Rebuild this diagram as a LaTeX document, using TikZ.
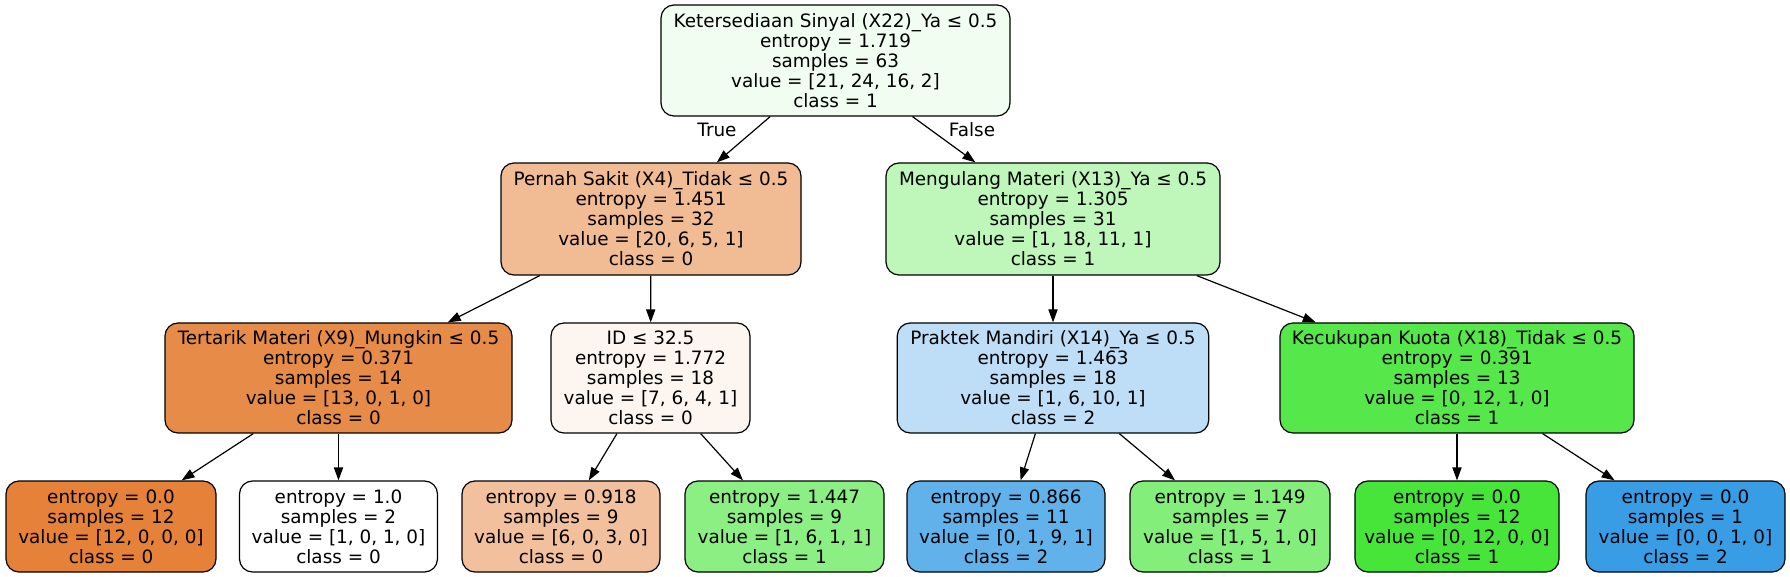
\documentclass[tikz,border=0pt]{standalone}
\usepackage{fontspec}
\setmainfont{DejaVu Sans}
\usetikzlibrary{arrows.meta}
\definecolor{cRoot}{RGB}{242,253,241}
\definecolor{cPern}{RGB}{241,187,148}
\definecolor{cMeng}{RGB}{191,246,186}
\definecolor{cTert}{RGB}{231,139,72}
\definecolor{cID}{RGB}{253,245,239}
\definecolor{cPrak}{RGB}{189,222,246}
\definecolor{cKec}{RGB}{86,231,74}
\definecolor{cLa}{RGB}{229,129,57}
\definecolor{cLb}{RGB}{255,255,255}
\definecolor{cLc}{RGB}{242,192,156}
\definecolor{cLd}{RGB}{140,239,131}
\definecolor{cLe}{RGB}{97,177,234}
\definecolor{cLf}{RGB}{132,238,123}
\definecolor{cLg}{RGB}{71,229,57}
\definecolor{cLh}{RGB}{57,157,229}
\tikzset{
  tnode/.style={draw=black, line width=0.6pt, rounded corners=6.5pt, align=center,
    inner sep=0pt, font=\fontsize{9.2}{10}\selectfont},
  edge/.style={draw=black, line width=0.6pt, -{Triangle[length=6.5pt,width=4.6pt]}},
  elab/.style={font=\fontsize{9.2}{10}\selectfont, inner sep=0pt}
}
\begin{document}
\begin{tikzpicture}[x=0.5pt,y=-0.5pt]
\useasboundingbox (0,0) rectangle (1790,577);
\node[tnode, fill=cRoot, minimum width=174.5pt, minimum height=55.5pt] (root) at (835.5,60.5)
  {Ketersediaan Sinyal (X22)\_Ya ≤ 0.5\\entropy = 1.719\\samples = 63\\value = [21, 24, 16, 2]\\class = 1};
\node[tnode, fill=cPern, minimum width=150pt, minimum height=56pt] (pern) at (651,219)
  {Pernah Sakit (X4)\_Tidak ≤ 0.5\\entropy = 1.451\\samples = 32\\value = [20, 6, 5, 1]\\class = 0};
\node[tnode, fill=cMeng, minimum width=167pt, minimum height=56pt] (meng) at (1053,219)
  {Mengulang Materi (X13)\_Ya ≤ 0.5\\entropy = 1.305\\samples = 31\\value = [1, 18, 11, 1]\\class = 1};
\node[tnode, fill=cTert, minimum width=173.5pt, minimum height=55pt] (tert) at (338.5,378)
  {Tertarik Materi (X9)\_Mungkin ≤ 0.5\\entropy = 0.371\\samples = 14\\value = [13, 0, 1, 0]\\class = 0};
\node[tnode, fill=cID, minimum width=99.5pt, minimum height=55pt] (idn) at (650.5,378)
  {ID ≤ 32.5\\entropy = 1.772\\samples = 18\\value = [7, 6, 4, 1]\\class = 0};
\node[tnode, fill=cPrak, minimum width=155.75pt, minimum height=55pt] (prak) at (1053,378)
  {Praktek Mandiri (X14)\_Ya ≤ 0.5\\entropy = 1.463\\samples = 18\\value = [1, 6, 10, 1]\\class = 2};
\node[tnode, fill=cKec, minimum width=177pt, minimum height=55pt] (kec) at (1457,378)
  {Kecukupan Kuota (X18)\_Tidak ≤ 0.5\\entropy = 0.391\\samples = 13\\value = [0, 12, 1, 0]\\class = 1};
\node[tnode, fill=cLa, minimum width=105pt, minimum height=45.5pt] (la) at (111,526.5)
  {entropy = 0.0\\samples = 12\\value = [12, 0, 0, 0]\\class = 0};
\node[tnode, fill=cLb, minimum width=99pt, minimum height=45.5pt] (lb) at (338.5,526.5)
  {entropy = 1.0\\samples = 2\\value = [1, 0, 1, 0]\\class = 0};
\node[tnode, fill=cLc, minimum width=99pt, minimum height=45.5pt] (lc) at (561,526.5)
  {entropy = 0.918\\samples = 9\\value = [6, 0, 3, 0]\\class = 0};
\node[tnode, fill=cLd, minimum width=99.5pt, minimum height=45.5pt] (ld) at (784.5,526.5)
  {entropy = 1.447\\samples = 9\\value = [1, 6, 1, 1]\\class = 1};
\node[tnode, fill=cLe, minimum width=99pt, minimum height=45.5pt] (le) at (1006,526.5)
  {entropy = 0.866\\samples = 11\\value = [0, 1, 9, 1]\\class = 2};
\node[tnode, fill=cLf, minimum width=100pt, minimum height=45.5pt] (lf) at (1230,526.5)
  {entropy = 1.149\\samples = 7\\value = [1, 5, 1, 0]\\class = 1};
\node[tnode, fill=cLg, minimum width=102pt, minimum height=45.5pt] (lg) at (1457,526.5)
  {entropy = 0.0\\samples = 12\\value = [0, 12, 0, 0]\\class = 1};
\node[tnode, fill=cLh, minimum width=99.5pt, minimum height=45.5pt] (lh) at (1685.5,526.5)
  {entropy = 0.0\\samples = 1\\value = [0, 0, 1, 0]\\class = 2};
\draw[edge] (root) -- (pern);
\draw[edge] (root) -- (meng);
\draw[edge] (pern) -- (tert);
\draw[edge] (pern) -- (idn);
\draw[edge] (meng) -- (prak);
\draw[edge] (meng) -- (kec);
\draw[edge] (tert) -- (la);
\draw[edge] (tert) -- (lb);
\draw[edge] (idn) -- (lc);
\draw[edge] (idn) -- (ld);
\draw[edge] (prak) -- (le);
\draw[edge] (prak) -- (lf);
\draw[edge] (kec) -- (lg);
\draw[edge] (kec) -- (lh);
\node[elab] (tlab) at (717,130) {True};
\node[elab] (flab) at (972,130) {False};
\end{tikzpicture}
\end{document}
